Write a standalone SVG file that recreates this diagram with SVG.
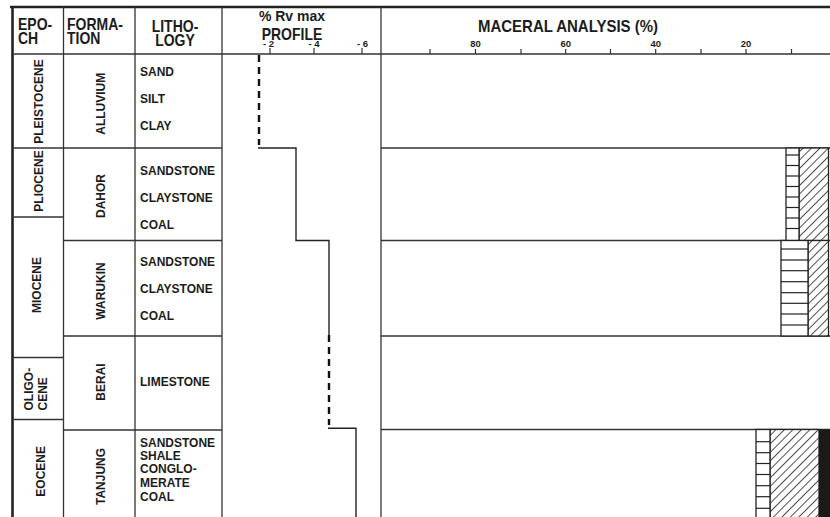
<svg xmlns="http://www.w3.org/2000/svg" width="830" height="517" viewBox="0 0 830 517">
<defs>
<style>
.g{stroke:#333;stroke-width:1.3;fill:none}
.bd{stroke:#222;stroke-width:2.6;fill:none}
.pf{stroke:#222;stroke-width:1.4;fill:none}
.ds{stroke:#111;stroke-width:2.4;fill:none;stroke-dasharray:7 5}
.tk{stroke:#333;stroke-width:1.2}
.box{fill:#fff;stroke:#222;stroke-width:1.3}
.hl{stroke:#222;stroke-width:1.2}
text{font-family:"Liberation Sans",Arial,Helvetica,sans-serif;font-weight:bold;fill:#1c1c1c}
.h{font-size:14px}
.m{font-size:15px}
.t{font-size:12px}
.s{font-size:9.5px}
.c{text-anchor:middle}
</style>
<pattern id="hatch" patternUnits="userSpaceOnUse" width="6" height="6" patternTransform="rotate(45)">
<rect width="6" height="6" fill="#fff"/>
<line x1="0" y1="0" x2="0" y2="6" stroke="#222" stroke-width="1.6"/>
</pattern>
</defs>
<rect width="830" height="517" fill="#fff"/>

<g id="grid">
<line class="bd" x1="10" y1="7" x2="830" y2="7"/>
<line class="bd" x1="12.5" y1="6" x2="12.5" y2="517"/>
<line class="g" x1="12" y1="54" x2="830" y2="54"/>
<line class="g" x1="63.5" y1="7" x2="63.5" y2="517"/>
<line class="g" x1="135" y1="7" x2="135" y2="517"/>
<line class="g" x1="222" y1="7" x2="222" y2="517"/>
<line class="g" x1="381" y1="7" x2="381" y2="517"/>
<!-- epoch boundaries -->
<line class="g" x1="12" y1="148" x2="63.5" y2="148"/>
<line class="g" x1="12" y1="217" x2="63.5" y2="217"/>
<line class="g" x1="12" y1="357.5" x2="63.5" y2="357.5"/>
<line class="g" x1="12" y1="419.5" x2="63.5" y2="419.5"/>
<!-- formation boundaries -->
<line class="g" x1="63.5" y1="148" x2="222" y2="148"/>
<line class="g" x1="63.5" y1="240.5" x2="222" y2="240.5"/>
<line class="g" x1="63.5" y1="336" x2="222" y2="336"/>
<line class="g" x1="63.5" y1="430" x2="222" y2="430"/>
<!-- maceral rows -->
<line class="g" x1="381" y1="148" x2="830" y2="148"/>
<line class="g" x1="381" y1="240.5" x2="830" y2="240.5"/>
<line class="g" x1="381" y1="336" x2="830" y2="336"/>
<line class="g" x1="381" y1="429.5" x2="830" y2="429.5"/>
</g>

<g id="header">
<text class="h" transform="translate(18,30) scale(1,1.12)">EPO-</text>
<text class="h" transform="translate(18,44) scale(1,1.12)">CH</text>
<text class="h" transform="translate(67,30) scale(1,1.12)">FORMA-</text>
<text class="h" transform="translate(67,44) scale(1,1.12)">TION</text>
<text class="h c" transform="translate(175,31.5) scale(1,1.12)">LITHO-</text>
<text class="h c" transform="translate(175,46) scale(1,1.12)">LOGY</text>
<text class="h c" transform="translate(292,21) scale(1,1.05)">% Rv max</text>
<text class="h c" transform="translate(292,39.5) scale(1,1.12)">PROFILE</text>
<text class="s c" x="268.5" y="46.5">- 2</text>
<text class="s c" x="314" y="46.5">- 4</text>
<text class="s c" x="362.5" y="46.5">- 6</text>
<line class="tk" x1="270" y1="48" x2="270" y2="54"/>
<line class="tk" x1="314" y1="48" x2="314" y2="54"/>
<line class="tk" x1="362" y1="48" x2="362" y2="54"/>
<text class="m c" transform="translate(568,31.5) scale(1,1.1)">MACERAL ANALYSIS (%)</text>
<text class="s c" x="475.5" y="47">80</text>
<text class="s c" x="565.7" y="47">60</text>
<text class="s c" x="655.7" y="47">40</text>
<text class="s c" x="746" y="47">20</text>
<g class="tk">
<line x1="430" y1="49" x2="430" y2="54"/>
<line x1="475.5" y1="49" x2="475.5" y2="54"/>
<line x1="521" y1="49" x2="521" y2="54"/>
<line x1="565.7" y1="49" x2="565.7" y2="54"/>
<line x1="610.5" y1="49" x2="610.5" y2="54"/>
<line x1="655.7" y1="49" x2="655.7" y2="54"/>
<line x1="701" y1="49" x2="701" y2="54"/>
<line x1="746" y1="49" x2="746" y2="54"/>
<line x1="791.5" y1="49" x2="791.5" y2="54"/>
</g>
</g>

<g id="epochs">
<text class="t c" transform="translate(43,101.5) rotate(-90) scale(1,1.12)">PLEISTOCENE</text>
<text class="t c" transform="translate(43,181) rotate(-90) scale(1,1.12)">PLIOCENE</text>
<text class="t c" transform="translate(40.5,285) rotate(-90) scale(1,1.12)">MIOCENE</text>
<text class="t" transform="translate(33.3,410.5) rotate(-90) scale(1,1.12)">OLIGO-</text>
<text class="t" transform="translate(46.5,410.5) rotate(-90) scale(1,1.12)">CENE</text>
<text class="t c" transform="translate(45,471.3) rotate(-90) scale(1,1.12)">EOCENE</text>
</g>

<g id="formations">
<text class="t c" transform="translate(105,103.8) rotate(-90) scale(1,1.12)">ALLUVIUM</text>
<text class="t c" transform="translate(105,196) rotate(-90) scale(1,1.12)">DAHOR</text>
<text class="t c" transform="translate(105,291) rotate(-90) scale(1,1.12)">WARUKIN</text>
<text class="t c" transform="translate(105,382) rotate(-90) scale(1,1.12)">BERAI</text>
<text class="t c" transform="translate(105,476.5) rotate(-90) scale(1,1.12)">TANJUNG</text>
</g>

<g id="lithology">
<text class="t" transform="translate(140,76) scale(1,1.12)">SAND</text>
<text class="t" transform="translate(140,103.3) scale(1,1.12)">SILT</text>
<text class="t" transform="translate(140,130.3) scale(1,1.12)">CLAY</text>
<text class="t" transform="translate(140,175) scale(1,1.12)">SANDSTONE</text>
<text class="t" transform="translate(140,202.3) scale(1,1.12)">CLAYSTONE</text>
<text class="t" transform="translate(140,229.3) scale(1,1.12)">COAL</text>
<text class="t" transform="translate(140,266) scale(1,1.12)">SANDSTONE</text>
<text class="t" transform="translate(140,293.3) scale(1,1.12)">CLAYSTONE</text>
<text class="t" transform="translate(140,320) scale(1,1.12)">COAL</text>
<text class="t" transform="translate(140,386) scale(1,1.12)">LIMESTONE</text>
<text class="t" transform="translate(140,446.7) scale(1,1.12)">SANDSTONE</text>
<text class="t" transform="translate(140,459.5) scale(1,1.12)">SHALE</text>
<text class="t" transform="translate(140,472.7) scale(1,1.12)">CONGLO-</text>
<text class="t" transform="translate(140,486.5) scale(1,1.12)">MERATE</text>
<text class="t" transform="translate(140,500.5) scale(1,1.12)">COAL</text>
</g>

<g id="profile">
<line class="ds" x1="259" y1="55" x2="259" y2="145"/>
<polyline class="pf" points="258,148 296,148 296,240.5 329,240.5 329,335"/>
<line class="ds" x1="329" y1="335" x2="329" y2="425"/>
<polyline class="pf" points="328,428.3 356,428.3 356,517"/>
</g>

<g id="maceral">
<g id="dahor-bar">
<rect x="799" y="148" width="29.5" height="92.5" fill="url(#hatch)" stroke="#222" stroke-width="1.3"/>
<rect class="box" x="786" y="148" width="13" height="92.5"/>
<g class="hl">
<line x1="786" y1="155" x2="799" y2="155"/>
<line x1="786" y1="165.5" x2="799" y2="165.5"/>
<line x1="786" y1="176" x2="799" y2="176"/>
<line x1="786" y1="186.5" x2="799" y2="186.5"/>
<line x1="786" y1="197" x2="799" y2="197"/>
<line x1="786" y1="207.5" x2="799" y2="207.5"/>
<line x1="786" y1="218" x2="799" y2="218"/>
<line x1="786" y1="228.5" x2="799" y2="228.5"/>
</g>
</g>
<g id="warukin-bar">
<rect x="808" y="240.5" width="20.5" height="95.5" fill="url(#hatch)" stroke="#222" stroke-width="1.3"/>
<rect class="box" x="781" y="240.5" width="27" height="95.5"/>
<g class="hl">
<line x1="781" y1="249" x2="808" y2="249"/>
<line x1="781" y1="260" x2="808" y2="260"/>
<line x1="781" y1="270.7" x2="808" y2="270.7"/>
<line x1="781" y1="281.7" x2="808" y2="281.7"/>
<line x1="781" y1="292.7" x2="808" y2="292.7"/>
<line x1="781" y1="303.3" x2="808" y2="303.3"/>
<line x1="781" y1="314" x2="808" y2="314"/>
<line x1="781" y1="325" x2="808" y2="325"/>
</g>
</g>
<g id="tanjung-bar">
<rect x="770" y="429.5" width="49" height="90" fill="url(#hatch)" stroke="#222" stroke-width="1.3"/>
<rect x="819" y="429.5" width="11" height="90" fill="#1c1a19"/>
<rect class="box" x="756" y="429.5" width="14" height="90"/>
<g class="hl">
<line x1="756" y1="441.7" x2="770" y2="441.7"/>
<line x1="756" y1="452.7" x2="770" y2="452.7"/>
<line x1="756" y1="463.5" x2="770" y2="463.5"/>
<line x1="756" y1="474.5" x2="770" y2="474.5"/>
<line x1="756" y1="485.7" x2="770" y2="485.7"/>
<line x1="756" y1="496.7" x2="770" y2="496.7"/>
<line x1="756" y1="508.3" x2="770" y2="508.3"/>
</g>
</g>
</g>
</svg>
